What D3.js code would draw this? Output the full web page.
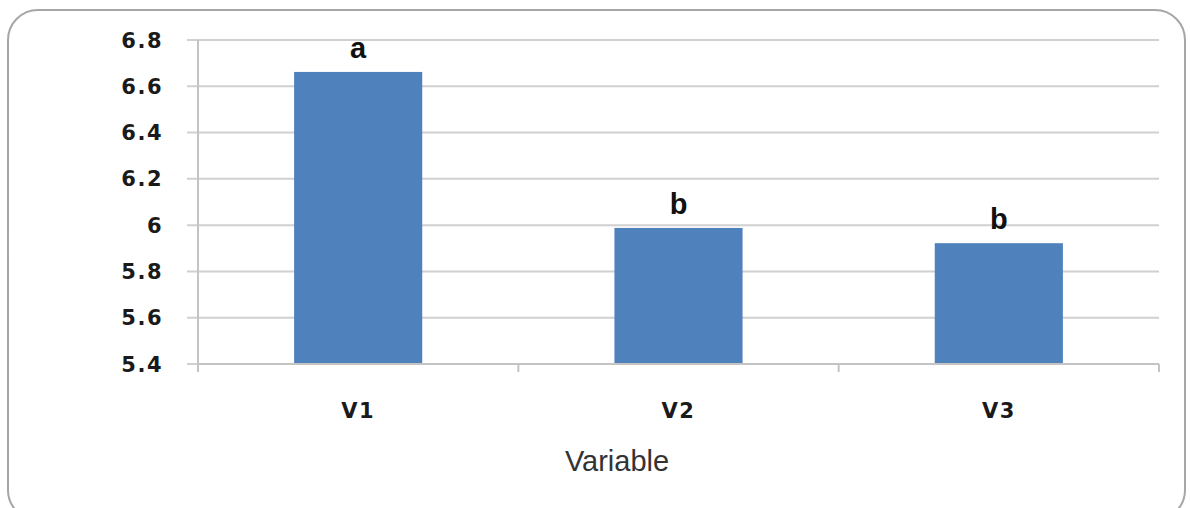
<!DOCTYPE html>
<html>
<head>
<meta charset="utf-8">
<script src="https://cdn.jsdelivr.net/npm/d3@7"></script>
<style>
  body { margin: 0; background: #fff; }
  svg { display: block; }
</style>
</head>
<body>
<div id="chart"></div>
<script>
var categories = ["V1", "V2", "V3"];
var values = [6.662, 5.988, 5.922];
var letters = ["a", "b", "b"];
var yTicks = [5.4, 5.6, 5.8, 6, 6.2, 6.4, 6.6, 6.8];

var W = 1190, H = 508;
var margin = { top: 40, right: 31, bottom: 144, left: 198 },
    width = W - margin.left - margin.right,
    height = H - margin.top - margin.bottom;

var svg = d3.select("#chart")
  .append("svg")
  .attr("width", W)
  .attr("height", H);

// outer rounded frame
svg.append("rect")
  .attr("x", 8).attr("y", 10)
  .attr("width", 1177).attr("height", 510)
  .attr("rx", 30).attr("ry", 30)
  .attr("fill", "#fff")
  .attr("stroke", "#a6a6a6")
  .attr("stroke-width", 2);

var g = svg.append("g")
  .attr("transform", "translate(" + margin.left + "," + margin.top + ")");

var x = d3.scaleBand()
  .domain(categories)
  .range([0, width])
  .paddingInner(0.6)
  .paddingOuter(0.3);

var y = d3.scaleLinear()
  .domain([5.4, 6.8])
  .range([height, 0]);

// gridlines + y ticks
g.selectAll(".grid")
  .data(yTicks)
  .enter()
  .append("line")
  .attr("x1", -11)
  .attr("x2", width)
  .attr("y1", d => y(d))
  .attr("y2", d => y(d))
  .attr("stroke", "#d0d0d0")
  .attr("stroke-width", 2);

// y axis line
g.append("line")
  .attr("x1", 0).attr("x2", 0)
  .attr("y1", y(6.8)).attr("y2", height + 5)
  .attr("stroke", "#c4c4c4")
  .attr("stroke-width", 2);

g.selectAll(".ylab")
  .data(yTicks)
  .enter()
  .append("text")
  .attr("x", -35)
  .attr("y", d => y(d))
  .attr("dy", "0.36em")
  .attr("text-anchor", "end")
  .style("font-family", "'DejaVu Sans', Verdana, sans-serif")
  .style("font-weight", "bold")
  .style("font-size", "21px")
  .style("letter-spacing", "1.5px")
  .attr("fill", "#1a1a1a")
  .text(d => d3.format("")(d));

// bars
g.selectAll(".bar")
  .data(values)
  .enter()
  .append("rect")
  .attr("x", (d, i) => x(categories[i]))
  .attr("y", d => y(d))
  .attr("width", x.bandwidth())
  .attr("height", d => height - y(d))
  .attr("fill", "#4f81bd");

// x axis line and boundary ticks
g.append("line")
  .attr("x1", 0).attr("x2", width)
  .attr("y1", height).attr("y2", height)
  .attr("stroke", "#c4c4c4")
  .attr("stroke-width", 2);

var bounds = [0, 1, 2, 3].map(i => i * width / 3);
g.selectAll(".xtick")
  .data(bounds)
  .enter()
  .append("line")
  .attr("x1", d => d).attr("x2", d => d)
  .attr("y1", height).attr("y2", height + 8)
  .attr("stroke", "#c4c4c4")
  .attr("stroke-width", 2);

// category labels
g.selectAll(".xlab")
  .data(categories)
  .enter()
  .append("text")
  .attr("x", d => x(d) + x.bandwidth() / 2)
  .attr("y", height + 46)
  .attr("dy", "0.36em")
  .attr("text-anchor", "middle")
  .style("font-family", "'DejaVu Sans', Verdana, sans-serif")
  .style("font-weight", "bold")
  .style("font-size", "21px")
  .style("letter-spacing", "1.5px")
  .attr("fill", "#1a1a1a")
  .text(d => d);

// significance letters
g.selectAll(".letter")
  .data(values)
  .enter()
  .append("text")
  .attr("x", (d, i) => x(categories[i]) + x.bandwidth() / 2)
  .attr("y", d => y(d) - 14)
  .attr("text-anchor", "middle")
  .style("font-family", "'Liberation Sans', Arial, sans-serif")
  .style("font-weight", "bold")
  .style("font-size", "29px")
  .attr("fill", "#111")
  .text((d, i) => letters[i]);

// axis title
svg.append("text")
  .attr("x", 617)
  .attr("y", 461)
  .attr("dy", "0.36em")
  .attr("text-anchor", "middle")
  .style("font-family", "'Liberation Sans', Arial, sans-serif")
  .style("font-size", "29px")
  .attr("fill", "#333")
  .text("Variable");
</script>
</body>
</html>
